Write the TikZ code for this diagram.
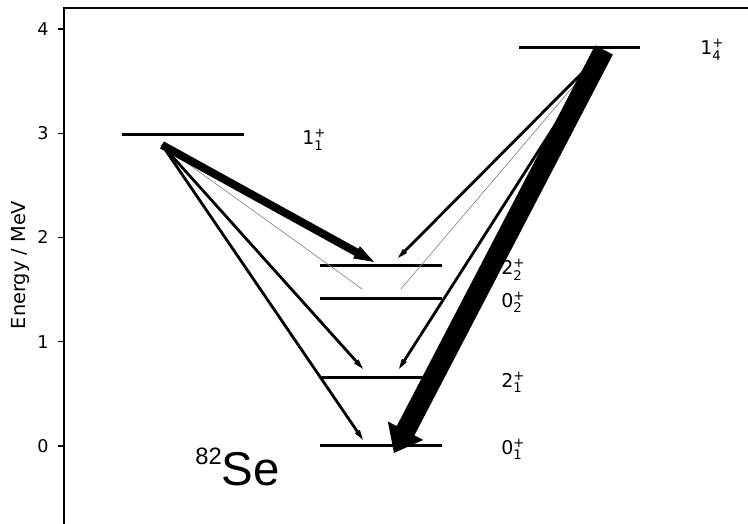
\documentclass[tikz,border=0pt]{standalone}
\usepackage{amsmath}
\usepackage{fontspec}
\setmainfont{DejaVu Sans}
\newfontfamily\nucfont{Liberation Sans}
\usetikzlibrary{calc}

\newcommand\lvl[3]{#1$^{\text{#3}}_{\text{#2}}$}
% filled transition arrow: [colour]{from}{to}{half shaft}{half head}{head length}
\newcommand\gline[6][black]{%
  \coordinate (hb) at ($(#3)!#6!(#2)$);
  \fill[#1] ($(#2)!#4!90:(#3)$) -- ($(hb)!#4!-90:(#2)$) -- ($(hb)!#5!-90:(#2)$)
    -- (#3) -- ($(hb)!#5!90:(#2)$) -- ($(hb)!#4!90:(#2)$) -- ($(#2)!#4!-90:(#3)$) -- cycle;}

\begin{document}
\begin{tikzpicture}[x=0.02cm, y=2.085cm,
    every node/.style={font=\fontsize{10}{12}\selectfont},
    level/.style={line width=1.7pt},
    spine/.style={line width=0.8pt},
    faint/.style={gray, line width=0.35pt},
    lab/.style={anchor=west, inner sep=0pt, font=\fontsize{10.8}{13}\selectfont}
]
\useasboundingbox (0,-0.748) rectangle (748,4.278);

% axes
\draw[spine] (64,-0.748) -- (64,4.201) -- (748,4.201);
\foreach \e in {0,...,4}{
  \draw[spine] (64,\e) -- (58,\e);
  \node[anchor=east, inner sep=0pt] (tick\e) at (49,\e) {\e};
}
\node[rotate=90, font=\fontsize{11}{13}\selectfont] (ylab) at (20,1.736) {Energy / MeV};

% levels
\draw[level] (320,0)     -- (442,0);
\draw[level] (320,0.652) -- (442,0.652);
\draw[level] (320,1.410) -- (442,1.410);
\draw[level] (320,1.727) -- (442,1.727);
\draw[level] (122,2.983) -- (244,2.983);
\draw[level] (519,3.818) -- (640,3.818);

\node[lab] (l01) at (501,-0.034) {\lvl{0}{1}{+}};
\node[lab] (l21) at (501,0.609)  {\lvl{2}{1}{+}};
\node[lab] (l02) at (501,1.377)  {\lvl{0}{2}{+}};
\node[lab] (l22) at (501,1.693)  {\lvl{2}{2}{+}};
\node[lab] (l11) at (302,2.935)  {\lvl{1}{1}{+}};
\node[lab] (l14) at (700,3.800)  {\lvl{1}{4}{+}};

\node[anchor=base west, inner sep=0pt, font=\nucfont\fontsize{27}{30}\selectfont] (nuc)
    at (195,-0.384) {\raisebox{12pt}{\fontsize{13.5}{15}\selectfont 82}Se};

% transitions
\coordinate (s11)  at (162,2.887);
\coordinate (s14)  at (600,3.751);
\coordinate (s14b) at (604,3.799);
\coordinate (e22l) at (374,1.765);
\coordinate (e02l) at (362,1.506);
\coordinate (e21l) at (363,0.739);
\coordinate (e01l) at (363,0.058);
\coordinate (e22r) at (398,1.803);
\coordinate (e02r) at (401,1.506);
\coordinate (e21r) at (399,0.739);
\coordinate (e01r) at (394,-0.067);

\draw[faint] (s11) -- (e02l);
\draw[faint] (s14) -- (e02r);
\gline{s11}{e21l}{0.028cm}{0.06cm}{0.2cm}
\gline{s11}{e01l}{0.028cm}{0.06cm}{0.2cm}
\gline{s14}{e22r}{0.028cm}{0.06cm}{0.2cm}
\gline{s14}{e21r}{0.028cm}{0.06cm}{0.2cm}
\gline{s11}{e22l}{0.08cm}{0.14cm}{0.4cm}
\gline{s14b}{e01r}{0.2cm}{0.4cm}{0.5cm}
\end{tikzpicture}
\end{document}
